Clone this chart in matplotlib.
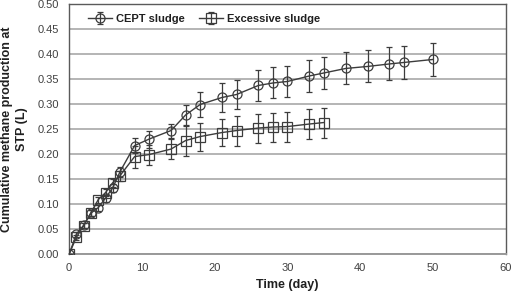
import matplotlib
matplotlib.use('Agg')
import matplotlib.pyplot as plt

# CEPT sludge (circles)
cept_day = [0, 1, 2, 3, 4, 5, 6, 7, 9, 11, 14, 16, 18, 21, 23, 26, 28, 30, 33, 35, 38, 41, 44, 46, 50]
cept_val = [0.0, 0.040, 0.058, 0.082, 0.093, 0.112, 0.133, 0.165, 0.217, 0.230, 0.247, 0.278, 0.299,
            0.313, 0.319, 0.337, 0.342, 0.345, 0.356, 0.362, 0.371, 0.375, 0.380, 0.383, 0.389]
cept_err = [0.0, 0.005, 0.005, 0.006, 0.006, 0.007, 0.008, 0.010, 0.015, 0.017, 0.014, 0.020, 0.025,
            0.028, 0.028, 0.031, 0.031, 0.031, 0.032, 0.032, 0.032, 0.032, 0.033, 0.033, 0.033]

# Excessive sludge (squares)
exc_day = [0, 1, 2, 3, 4, 5, 6, 7, 9, 11, 14, 16, 18, 21, 23, 26, 28, 30, 33, 35]
exc_val = [0.0, 0.034, 0.057, 0.083, 0.109, 0.123, 0.143, 0.157, 0.195, 0.199, 0.210, 0.227, 0.235,
           0.243, 0.247, 0.252, 0.254, 0.255, 0.260, 0.263]
exc_err = [0.0, 0.005, 0.005, 0.006, 0.006, 0.007, 0.008, 0.010, 0.022, 0.020, 0.020, 0.030, 0.028,
           0.027, 0.030, 0.029, 0.029, 0.030, 0.030, 0.030]

plt.rcParams['font.family'] = ['Liberation Sans', 'DejaVu Sans']

dark = '#3c3c3c'
grid = '#b4b4b4'

fig = plt.figure(figsize=(5.12, 2.98), dpi=100)
ax = fig.add_axes([0.135, 0.147, 0.853, 0.84])

common = dict(color=dark, lw=1.0, ms=6.5, mfc='none', mec=dark, mew=0.9,
              ecolor=dark, elinewidth=0.9, capsize=2.5, capthick=0.9, zorder=3)
ax.errorbar(cept_day, cept_val, yerr=cept_err, marker='o', label='CEPT sludge', **common)
ax.errorbar(exc_day, exc_val, yerr=exc_err, marker='s', label='Excessive sludge', **common)

ax.set_xlim(0, 60)
ax.set_ylim(0, 0.5)
ax.set_xticks(range(0, 61, 10))
ax.set_yticks([i * 0.05 for i in range(11)])
ax.yaxis.set_major_formatter(matplotlib.ticker.FormatStrFormatter('%.2f'))
ax.yaxis.grid(True, color=grid, lw=1.4, zorder=0)
ax.set_axisbelow(True)
ax.tick_params(length=0, labelsize=8, labelcolor='#404040')
ax.tick_params(axis='x', pad=6)
ax.tick_params(axis='y', pad=7)
for s in ax.spines.values():
    s.set_color('#5a5a5a')
    s.set_linewidth(1.0)
ax.spines['bottom'].set_color('#999999')
ax.spines['bottom'].set_linewidth(1.4)

ax.set_xlabel('Time (day)', fontsize=9, fontweight='bold', color='#202020', labelpad=5)
ax.set_ylabel('Cumulative methane production at\nSTP (L)', fontsize=9, fontweight='bold',
              color='#202020', labelpad=7, linespacing=1.4)

leg = ax.legend(loc='upper left', bbox_to_anchor=(0.02, 1.0), ncol=2, frameon=False,
                prop={'size': 8, 'weight': 'bold'}, handlelength=2.2, handletextpad=0.3,
                columnspacing=1.3)
for t in leg.get_texts():
    t.set_color('#202020')

fig.savefig('out.png', dpi=100)
